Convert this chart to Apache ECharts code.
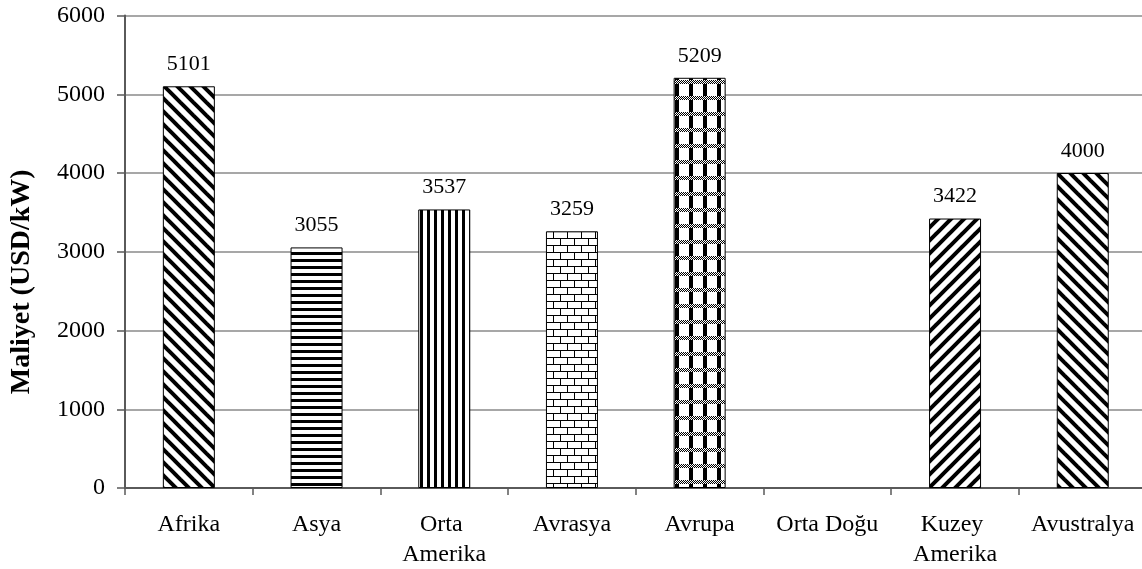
<!DOCTYPE html>
<html>
<head>
<meta charset="utf-8">
<script src="https://cdn.jsdelivr.net/npm/echarts@6/dist/echarts.min.js"></script>
<style>
html,body{margin:0;padding:0;background:#fff;}
#chart{width:1142px;height:569px;}
</style>
</head>
<body>
<div id="chart"></div>
<script>
// ---- data ----
const categories = ['Afrika', 'Asya', 'Orta Amerika', 'Avrasya', 'Avrupa', 'Orta Doğu', 'Kuzey Amerika', 'Avustralya'];
const costs = [5101, 3055, 3537, 3259, 5209, null, 3422, 4000];
const yMin = 0, yMax = 6000, yStep = 1000;
const yAxisTitle = 'Maliyet (USD/kW)';

// ---- patterns (style only) ----
function mk(w, h) {
  const c = document.createElement('canvas');
  c.width = w; c.height = h;
  const g = c.getContext('2d');
  g.fillStyle = '#fff'; g.fillRect(0, 0, w, h);
  return [c, g];
}
function diag(back) {
  const s = 13;
  const [c, g] = mk(s, s);
  g.strokeStyle = '#000'; g.lineWidth = 4; g.lineCap = 'square';
  for (let k = -1; k <= 1; k++) {
    g.beginPath();
    if (back) { g.moveTo(k * s, 0); g.lineTo(k * s + s, s); }
    else { g.moveTo(k * s, s); g.lineTo(k * s + s, 0); }
    g.stroke();
  }
  return c;
}
function horiz() { const [c, g] = mk(8, 7); g.fillStyle = '#000'; g.fillRect(0, 0, 8, 3); return c; }
function vert() { const [c, g] = mk(7, 8); g.fillStyle = '#000'; g.fillRect(0, 0, 3, 8); return c; }
function brick() {
  const [c, g] = mk(14, 14); g.fillStyle = '#000';
  g.fillRect(0, 0, 14, 1); g.fillRect(0, 7, 14, 1);
  g.fillRect(0, 0, 1, 7); g.fillRect(7, 7, 1, 7);
  return c;
}
function plaid() {
  const [c, g] = mk(14, 16); g.fillStyle = '#000';
  g.fillRect(3, 0, 4, 16);
  for (let y = 0; y < 4; y++) for (let x = 0; x < 14; x++) {
    g.fillStyle = ((x + y) % 2) ? '#000' : '#fff';
    g.fillRect(x, y, 1, 1);
  }
  return c;
}
const patternFor = [diag(true), horiz(), vert(), brick(), plaid(), diag(true), diag(false), diag(true)];

const font = 'Liberation Serif, Times New Roman, serif';
const chart = echarts.init(document.getElementById('chart'), null, { renderer: 'canvas' });
chart.setOption({
  animation: false,
  backgroundColor: '#fff',
  grid: { left: 125, top: 15.5, width: 1021.6, height: 472.5, containLabel: false, outerBoundsMode: 'none' },
  xAxis: {
    type: 'category',
    data: categories,
    axisLine: { show: true, lineStyle: { color: '#5a5a5a', width: 2 } },
    axisTick: { show: true, length: 7, lineStyle: { color: '#5a5a5a', width: 1.5 } },
    axisLabel: { color: '#000', fontFamily: font, fontSize: 24, lineHeight: 30, margin: 22, width: 120, overflow: 'break', interval: 0 },
    splitLine: { show: false }
  },
  yAxis: {
    type: 'value',
    min: yMin, max: yMax, interval: yStep,
    name: yAxisTitle,
    nameLocation: 'middle',
    nameGap: 89,
    nameTextStyle: { color: '#000', fontFamily: font, fontSize: 28, fontWeight: 'bold', padding: [0, 60, 0, 0] },
    axisLine: { show: true, lineStyle: { color: '#5a5a5a', width: 2 } },
    axisTick: { show: true, length: 8, lineStyle: { color: '#5a5a5a', width: 1.5 } },
    axisLabel: { color: '#000', fontFamily: font, fontSize: 24, margin: 20, formatter: v => String(v) },
    splitLine: { show: true, lineStyle: { color: '#8a8a8a', width: 1.5 } }
  },
  series: [{
    type: 'bar',
    barWidth: 52,
    data: costs.map((v, i) => ({
      value: v,
      itemStyle: { color: { image: patternFor[i], repeat: 'repeat' }, borderColor: '#000', borderWidth: 1 }
    })),
    label: { show: true, position: 'top', distance: 11, color: '#000', fontFamily: font, fontSize: 22 }
  }]
});
</script>
</body>
</html>
